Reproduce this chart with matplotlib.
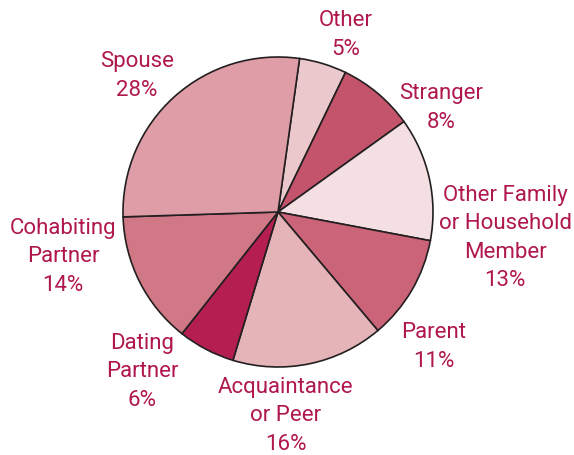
import matplotlib.pyplot as plt
import numpy as np

# slices, clockwise from the top
labels = ["Other\n5%", "Stranger\n8%", "Other Family\nor Household\nMember\n13%",
          "Parent\n11%", "Acquaintance\nor Peer\n16%", "Dating\nPartner\n6%",
          "Cohabiting\nPartner\n14%", "Spouse\n28%"]
values = [5, 8, 13, 11, 16, 6, 14, 28]
colors = ["#EBC8CC", "#C4546C", "#F4E0E2", "#CB6478",
          "#E5B4B9", "#B41E50", "#D07886", "#DF9EA7"]

# label offsets from the pie centre (pixels, y up)
label_pos = [(68, 178), (163, 105), (227, -25), (156, -134),
             (8, -203), (-136, -159), (-215, -44), (-141, 137)]

txt_color = "#B0174E"

fig = plt.figure(figsize=(5.74, 4.56), dpi=100)
ax = fig.add_axes([0, 0, 1, 1])

cx, cy, r = 278, 456 - 213, 155

ax.pie(values, colors=colors, startangle=82, counterclock=False,
       center=(cx, cy), radius=r, frame=True,
       wedgeprops=dict(edgecolor="#231F20", linewidth=1.2))
ax.set_xlim(0, 574)
ax.set_ylim(0, 456)
ax.set_aspect("equal")
ax.axis("off")

for lab, (dx, dy) in zip(labels, label_pos):
    ax.text(cx + dx, cy + dy, lab, ha="center", va="center", color=txt_color,
            fontsize=16, family="Roboto", linespacing=1.47)

fig.savefig("out.png", dpi=100)
